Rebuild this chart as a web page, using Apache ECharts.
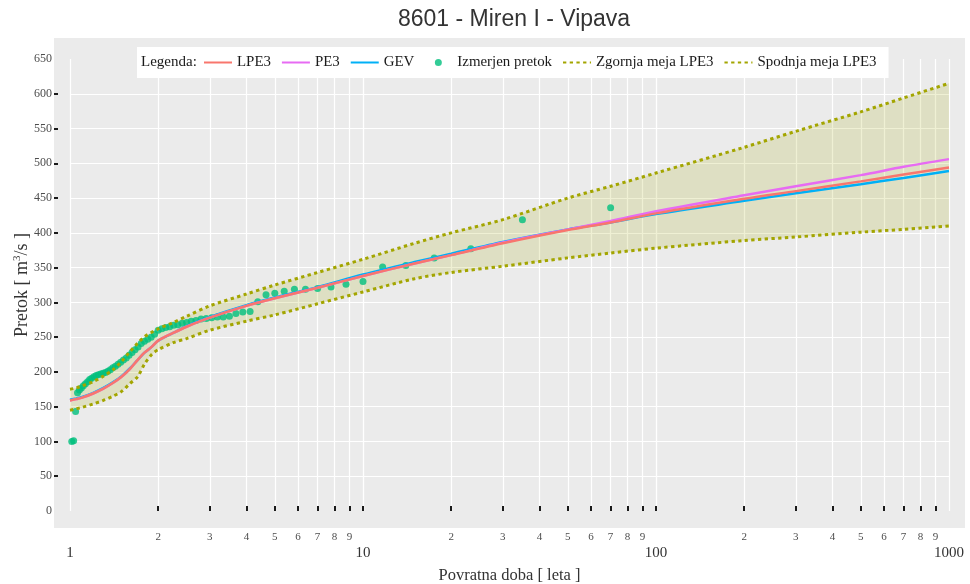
<!DOCTYPE html>
<html>
<head>
<meta charset="utf-8">
<script src="https://cdn.jsdelivr.net/npm/echarts@6/dist/echarts.min.js"></script>
<style>
  html, body { margin: 0; padding: 0; background: #ffffff; }
  #chart { width: 970px; height: 584px; }
</style>
</head>
<body>
<div id="chart"></div>
<script>
// Return periods (years) at which the fitted curves are evaluated
const returnPeriods = [1, 1.05, 1.1, 1.2, 1.3, 1.4, 1.5, 1.6, 1.7, 1.8, 1.9, 2, 2.25, 2.5, 3, 4, 5, 7, 10, 15, 20, 30, 50, 70, 100, 200, 300, 500, 700, 1000];

// Fitted discharge quantiles [m3/s]
const lpe3  = [159, 161, 163, 169, 176, 184, 193, 204, 217, 228, 236, 245, 256, 265, 278, 295, 306, 321, 338, 356, 368, 385, 404, 415, 428, 449, 460, 474, 484, 494];
const pe3   = [159, 161, 163, 169, 176, 184, 193, 204, 217, 228, 236, 245, 256, 265, 278, 295, 306, 321, 338, 356, 368, 386, 405, 417, 431, 454, 467, 483, 495, 506];
const gev   = [160, 162, 164, 170, 177, 185, 194, 205, 217, 228, 236, 245, 256, 266, 279, 296, 307, 322, 340, 358, 370, 387, 405, 415, 427, 446, 457, 470, 479, 489];

// Confidence bounds of the LPE3 fit
const upperLpe3 = [175, 177, 180, 186, 194, 203, 215, 229, 241, 251, 257, 262, 271, 280, 295, 312, 325, 343, 362, 385, 400, 419, 450, 467, 486, 523, 546, 574, 594, 615];
const lowerLpe3 = [145, 147, 149, 154, 159, 165, 172, 183, 193, 212, 225, 232, 242, 248, 260, 273, 282, 298, 315, 334, 343, 352, 364, 371, 378, 389, 394, 401, 405, 410];

// Measured annual peaks: plotting-position return period and discharge
const observedT = [70, 35, 23.333, 17.5, 14, 11.667, 10, 8.75, 7.778, 7, 6.364, 5.833, 5.385, 5, 4.667, 4.375, 4.118, 3.889, 3.684, 3.5,
  3.333, 3.182, 3.043, 2.917, 2.8, 2.692, 2.593, 2.5, 2.414, 2.333, 2.258, 2.188, 2.121, 2.059, 2, 1.944, 1.892, 1.842, 1.795, 1.75,
  1.707, 1.667, 1.628, 1.591, 1.556, 1.522, 1.489, 1.458, 1.429, 1.4, 1.373, 1.346, 1.321, 1.296, 1.273, 1.25, 1.228, 1.207, 1.186, 1.167,
  1.148, 1.129, 1.111, 1.094, 1.077, 1.061, 1.045, 1.029, 1.014];
const observedQ = [436, 419, 377, 364, 353, 351, 330, 326, 322, 320, 319, 319, 316, 313, 311, 301, 287, 286, 284, 280,
  279, 279, 278, 277, 276, 274, 273, 271, 270, 268, 267, 265, 264, 262, 260, 254, 250, 247, 244, 241,
  236, 232, 228, 224, 220, 217, 214, 211, 208, 206, 203, 201, 199, 198, 197, 196, 195, 193, 191, 189,
  186, 183, 180, 177, 174, 170, 143, 101, 100];

// Axis tick positions and labels
const xMinorTicks  = [2, 3, 4, 5, 6, 7, 8, 9, 10, 20, 30, 40, 50, 60, 70, 80, 90, 100, 200, 300, 400, 500, 600, 700, 800, 900];
const xMinorLabels = [2, 3, 4, 5, 6, 7, 8, 9, 20, 30, 40, 50, 60, 70, 80, 90, 200, 300, 400, 500, 600, 700, 800, 900];
const xMajorLabels = [1, 10, 100, 1000];
const yTicks = [50, 100, 150, 200, 250, 300, 350, 400, 450, 500, 550, 600];

const SERIF = "'Liberation Serif', 'DejaVu Serif', serif";
const SANS = "'Liberation Sans', 'DejaVu Sans', sans-serif";

const toPairs = (xs, ys) => xs.map((x, i) => [x, ys[i]]);
const leadingDigit = v => String(Math.round(v / Math.pow(10, Math.floor(Math.log10(v) + 1e-9))));

const chart = echarts.init(document.getElementById('chart'), null, { renderer: 'canvas' });

const dotted = [3.3, 3.4];
const hideSymbol = { opacity: 0 };
// legend dot centred in a 28 px wide item box
const dotIcon = 'path://M0,3.5L0.01,3.5M28,3.5L27.99,3.5M17.5,3.5A3.5,3.5,0,1,1,10.5,3.5A3.5,3.5,0,1,1,17.5,3.5Z';

chart.setOption({
  backgroundColor: '#ffffff',
  animation: false,
  graphic: [
    {
      type: 'rect', z: -10, silent: true,
      shape: { x: 54, y: 38, width: 911, height: 490 },
      style: { fill: '#ebebeb' }
    },
    {
      type: 'text', z: 100, silent: true, x: 514, y: 20,
      style: { text: '8601 - Miren I - Vipava', fontFamily: SANS, fontSize: 23, fill: '#333333', align: 'center', verticalAlign: 'middle' }
    },
    {
      type: 'text', z: 100, silent: true, x: 141, y: 62,
      style: { text: 'Legenda:', fontFamily: SERIF, fontSize: 15, fill: '#1a1a1a', align: 'left', verticalAlign: 'middle' }
    }
  ],
  legend: {
    left: 137, top: 47,
    backgroundColor: '#ffffff',
    padding: [8, 12, 8, 66],
    itemGap: 10,
    itemWidth: 28,
    itemHeight: 7,
    textStyle: { fontFamily: SERIF, fontSize: 14.9, color: '#1a1a1a' },
    data: [
      { name: 'LPE3', itemStyle: hideSymbol },
      { name: 'PE3', itemStyle: hideSymbol },
      { name: 'GEV', itemStyle: hideSymbol },
      { name: 'Izmerjen pretok', icon: dotIcon },
      { name: 'Zgornja meja LPE3', itemStyle: hideSymbol },
      { name: 'Spodnja meja LPE3', itemStyle: hideSymbol }
    ]
  },
  grid: { left: 70, right: 21, top: 59, bottom: 73, containLabel: false, outerBoundsMode: 'none' },
  xAxis: [
    {
      type: 'log', logBase: 10, min: 1, max: 1000, position: 'bottom', offset: 17,
      axisLine: { show: false },
      axisTick: { show: true, inside: true, length: 5, customValues: xMinorTicks, lineStyle: { color: '#1a1a1a', width: 2 } },
      axisLabel: { customValues: xMinorLabels, formatter: v => leadingDigit(v), margin: 4, fontFamily: SERIF, fontSize: 11, color: '#4d4d4d' },
      splitLine: { show: true, lineStyle: { color: '#ffffff', width: 1.2 } }
    },
    {
      type: 'log', logBase: 10, min: 1, max: 1000, position: 'bottom', offset: 17,
      axisLine: { show: false },
      axisTick: { show: false },
      axisLabel: { customValues: xMajorLabels, formatter: v => String(v), margin: 18, fontFamily: SERIF, fontSize: 15, color: '#333333' },
      splitLine: { show: true, lineStyle: { color: '#ffffff', width: 1.2 } },
      name: 'Povratna doba [ leta ]', nameLocation: 'middle', nameGap: 39, nameMoveOverlap: false,
      nameTextStyle: { fontFamily: SERIF, fontSize: 16.5, color: '#333333' }
    }
  ],
  yAxis: {
    type: 'value', min: 0, max: 650, interval: 50, offset: 16,
    axisLine: { show: false },
    axisTick: { show: true, inside: true, length: 4, customValues: yTicks, lineStyle: { color: '#1a1a1a', width: 2 } },
    axisLabel: { margin: 2, fontFamily: SERIF, fontSize: 12, color: '#4d4d4d' },
    splitLine: { show: true, lineStyle: { color: '#ffffff', width: 1.2 } },
    name: 'Pretok [ m{sup|3}/s ]', nameLocation: 'middle', nameGap: 22, nameMoveOverlap: false,
    nameTextStyle: {
      fontFamily: SERIF, fontSize: 18, color: '#333333',
      rich: { sup: { fontFamily: SERIF, fontSize: 11, color: '#333333', padding: [0, 0, 9, 0] } }
    }
  },
  series: [
    {
      // shaded confidence band between the LPE3 bounds
      name: 'band', type: 'custom', silent: true, z: 1,
      data: [[1, 0]],
      encode: { x: 0, y: 1 },
      renderItem: (params, api) => {
        const pts = returnPeriods.map((t, i) => api.coord([t, upperLpe3[i]]));
        for (let i = returnPeriods.length - 1; i >= 0; i--) {
          pts.push(api.coord([returnPeriods[i], lowerLpe3[i]]));
        }
        return { type: 'polygon', shape: { points: pts }, style: { fill: 'rgba(163,165,0,0.17)' } };
      }
    },
    {
      name: 'Zgornja meja LPE3', type: 'line', symbol: 'none', smooth: 0.3,
      data: toPairs(returnPeriods, upperLpe3), color: '#A3A500',
      lineStyle: { color: '#A3A500', width: 3, type: dotted, cap: 'butt' }
    },
    {
      name: 'Spodnja meja LPE3', type: 'line', symbol: 'none', smooth: 0.3,
      data: toPairs(returnPeriods, lowerLpe3), color: '#A3A500',
      lineStyle: { color: '#A3A500', width: 3, type: dotted, cap: 'butt' }
    },
    {
      name: 'Izmerjen pretok', type: 'scatter', symbol: 'circle', symbolSize: 7,
      data: toPairs(observedT, observedQ), itemStyle: { color: '#00BF7D' }
    },
    {
      name: 'GEV', type: 'line', symbol: 'none', smooth: 0.3,
      data: toPairs(returnPeriods, gev), color: '#00B0F6',
      lineStyle: { color: '#00B0F6', width: 2.5 }
    },
    {
      name: 'PE3', type: 'line', symbol: 'none', smooth: 0.3,
      data: toPairs(returnPeriods, pe3), color: '#E76BF3',
      lineStyle: { color: '#E76BF3', width: 2.5 }
    },
    {
      name: 'LPE3', type: 'line', symbol: 'none', smooth: 0.3,
      data: toPairs(returnPeriods, lpe3), color: '#F8766D',
      lineStyle: { color: '#F8766D', width: 2.5 }
    }
  ]
});
</script>
</body>
</html>
